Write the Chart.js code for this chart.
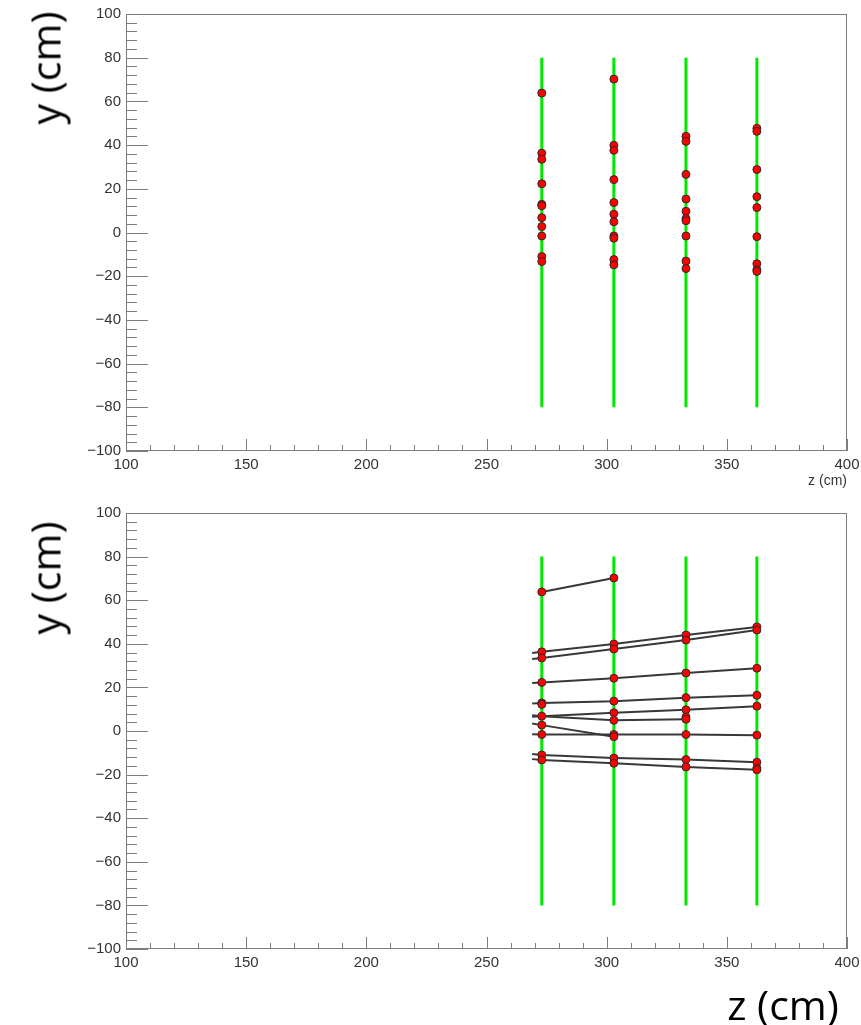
<!DOCTYPE html>
<html>
<head>
<meta charset="utf-8">
<script src="https://cdn.jsdelivr.net/npm/chart.js@4.4.1/dist/chart.umd.min.js"></script>
<style>
  html, body { margin: 0; padding: 0; background: #fff; }
  #wrap { position: relative; width: 861px; height: 1025px; overflow: hidden; background: #fff; }
  canvas { position: absolute; left: 0; }
  #hitsChart { top: 0; }
  #tracksChart { top: 500px; }
  .big { position: absolute; font-family: "Open Sans", "Noto Sans", sans-serif; font-size: 41px;
         line-height: 1; color: #000; white-space: nowrap; transform: translate(-50%, -50%); }
  .rot { transform: translate(-50%, -50%) rotate(-90deg); }
</style>
</head>
<body>
<div id="wrap">
  <canvas id="hitsChart" width="861" height="500"></canvas>
  <canvas id="tracksChart" width="861" height="525"></canvas>
  <div class="big rot" style="left:45px; top:68px;">y (cm)</div>
  <div class="big rot" style="left:45px; top:578px;">y (cm)</div>
  <div class="big" style="left:783px; top:1004px;">z (cm)</div>
</div>
<script>
// Detector stations (z positions, cm) and their vertical extent
const stationZ = [273, 303, 333, 362.5];
const stationSpan = [-80, 80];

// Reconstructed hit y positions (cm) on each station
const hitsStation1 = [63.8, 36.3, 33.5, 22.3, 12.9, 12.2, 6.8, 2.7, -1.6, -11.0, -13.3];
const hitsStation2 = [70.2, 39.9, 37.6, 24.2, 13.7, 8.4, 4.9, -1.6, -2.6, -12.4, -14.8];
const hitsStation3 = [44.0, 41.7, 26.6, 15.3, 9.7, 6.4, 5.4, -1.6, -13.1, -16.5];
const hitsStation4 = [47.7, 46.3, 28.8, 16.4, 11.4, -1.9, -14.3, -17.0, -17.8];
const hitsByStation = [hitsStation1, hitsStation2, hitsStation3, hitsStation4];

// Fitted track segments as [z, y] pairs (cm)
const track01 = [[273, 63.8], [303, 70.2]];
const track02 = [[269, 35.8], [273, 36.3], [303, 39.9], [333, 44.0], [362.5, 47.7]];
const track03 = [[269, 33.0], [273, 33.5], [303, 37.6], [333, 41.7], [362.5, 46.3]];
const track04 = [[269, 22.0], [273, 22.3], [303, 24.2], [333, 26.6], [362.5, 28.8]];
const track05 = [[269, 12.6], [273, 12.9], [303, 13.7], [333, 15.3], [362.5, 16.4]];
const track06 = [[269, 6.5], [273, 6.8], [303, 8.4], [333, 9.7], [362.5, 11.4]];
const track07 = [[269, 7.2], [273, 6.8], [303, 4.9], [333, 5.4]];
const track08 = [[269, 3.4], [273, 2.7], [303, -2.6]];
const track09 = [[269, -1.5], [273, -1.6], [303, -1.6], [333, -1.6], [362.5, -1.9]];
const track10 = [[269, -10.6], [273, -11.0], [303, -12.4], [333, -13.1], [362.5, -14.3]];
const track11 = [[269, -12.9], [273, -13.3], [303, -14.8], [333, -16.5], [362.5, -17.8]];
const trackList = [track01, track02, track03, track04, track05, track06,
                   track07, track08, track09, track10, track11];

// Axis ranges, labelled ticks and minor divisions
const zRange = [100, 400];
const yRange = [-100, 100];
const zTicks = [100, 150, 200, 250, 300, 350, 400];
const yTicks = [-100, -80, -60, -40, -20, 0, 20, 40, 60, 80, 100];
const zMinorStep = 10;
const yMinorStep = 4;

const fmt = v => (v < 0 ? '\u2212' + Math.abs(v) : String(v));

// Frame plus inward major/minor tick marks on the left and bottom axes
const frameTicks = {
  id: 'frameTicks',
  beforeDatasetsDraw(chart) {
    const { ctx, chartArea: a, scales: { x, y } } = chart;
    ctx.save();
    ctx.strokeStyle = '#7d7d7d';
    ctx.lineWidth = 1;
    ctx.strokeRect(a.left + 0.5, a.top + 0.5, a.right - a.left - 1, a.bottom - a.top - 1);
    ctx.beginPath();
    const nY = Math.round((yRange[1] - yRange[0]) / yMinorStep);
    for (let i = 0; i <= nY; i++) {
      const v = yRange[0] + i * yMinorStep;
      const py = Math.round(y.getPixelForValue(v)) + 0.5;
      const len = yTicks.includes(v) ? 22 : 11;
      ctx.moveTo(a.left, py);
      ctx.lineTo(a.left + len, py);
    }
    const nX = Math.round((zRange[1] - zRange[0]) / zMinorStep);
    for (let i = 0; i <= nX; i++) {
      const v = zRange[0] + i * zMinorStep;
      const px = Math.round(x.getPixelForValue(v)) + 0.5;
      const len = zTicks.includes(v) ? 12 : 6;
      ctx.moveTo(px, a.bottom);
      ctx.lineTo(px, a.bottom - len);
    }
    ctx.stroke();
    ctx.restore();
  }
};

function stationDatasets() {
  return stationZ.map(z => ({
    type: 'line',
    data: [{ x: z, y: stationSpan[0] }, { x: z, y: stationSpan[1] }],
    borderColor: '#00e800',
    borderWidth: 3,
    pointRadius: 0,
    fill: false,
    order: 3
  }));
}

function hitDataset() {
  const pts = [];
  hitsByStation.forEach((list, i) => list.forEach(yv => pts.push({ x: stationZ[i], y: yv })));
  return {
    type: 'scatter',
    data: pts,
    backgroundColor: '#ff0000',
    borderColor: '#2b2b2b',
    borderWidth: 1,
    pointRadius: 4,
    order: 1
  };
}

function trackDatasets() {
  return trackList.map(t => ({
    type: 'line',
    data: t.map(p => ({ x: p[0], y: p[1] })),
    borderColor: '#383838',
    borderWidth: 2,
    pointRadius: 0,
    fill: false,
    tension: 0,
    order: 2
  }));
}

const tickFont = { family: '"Liberation Sans", Arial, sans-serif', size: 15 };

function makeOptions(padTop, padBottom, withTitle) {
  return {
    responsive: false,
    animation: false,
    events: [],
    layout: { padding: { left: 66, right: 14, top: padTop, bottom: padBottom } },
    plugins: { legend: { display: false }, tooltip: { enabled: false } },
    scales: {
      x: {
        type: 'linear', position: 'bottom', min: zRange[0], max: zRange[1],
        afterBuildTicks: s => { s.ticks = zTicks.map(v => ({ value: v })); },
        afterFit: s => { s.height = 40; s.paddingLeft = 0; s.paddingRight = 0; },
        ticks: { callback: fmt, font: tickFont, color: '#333', padding: 5, maxRotation: 0, autoSkip: false },
        grid: { display: false, drawTicks: false },
        border: { display: false },
        title: {
          display: withTitle, text: 'z (cm)', align: 'end', color: '#333',
          font: { family: '"Liberation Sans", Arial, sans-serif', size: 14 },
          padding: { top: 0, bottom: 1 }
        }
      },
      y: {
        type: 'linear', position: 'left', min: yRange[0], max: yRange[1],
        afterBuildTicks: s => { s.ticks = yTicks.map(v => ({ value: v })); },
        afterFit: s => { s.width = 60; s.paddingTop = 0; s.paddingBottom = 0; },
        ticks: { callback: fmt, font: tickFont, color: '#333', padding: 5, autoSkip: false },
        grid: { display: false, drawTicks: false },
        border: { display: false }
      }
    }
  };
}

new Chart(document.getElementById('hitsChart'), {
  type: 'scatter',
  data: { datasets: [hitDataset(), ...stationDatasets()] },
  options: makeOptions(14, 9, true),
  plugins: [frameTicks]
});

new Chart(document.getElementById('tracksChart'), {
  type: 'scatter',
  data: { datasets: [hitDataset(), ...trackDatasets(), ...stationDatasets()] },
  options: makeOptions(13, 36, false),
  plugins: [frameTicks]
});
</script>
</body>
</html>
